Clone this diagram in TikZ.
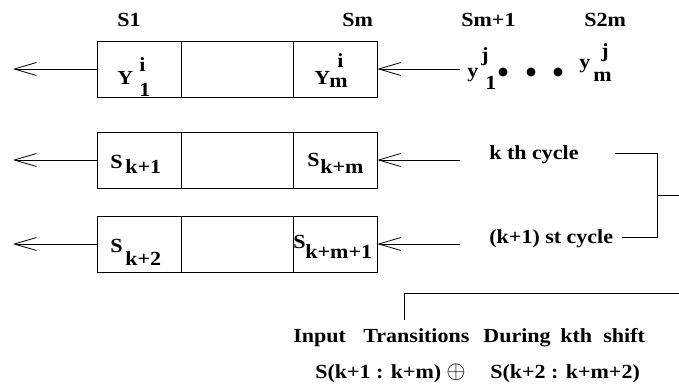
\documentclass[tikz,border=0pt]{standalone}
\usepackage{fontspec}
\setmainfont{Liberation Serif}[FakeStretch=1.1]
\usetikzlibrary{arrows.meta}
\begin{document}
\begin{tikzpicture}[x=1pt,y=-1pt,
  font=\fontsize{20}{22}\selectfont\bfseries,
  line width=0.8pt,
  cell/.style={draw, inner sep=0, minimum height=56pt},
  edgecell/.style={cell, minimum width=84pt},
  midcell/.style={cell, minimum width=112pt},
  arr/.style={-{Straight Barb[length=22pt,width=13pt]}},
  lab/.style={anchor=base west, inner sep=0},
  dot/.style={circle, fill, inner sep=0, minimum size=9pt}]
\useasboundingbox (0,0) rectangle (679,390);
% row 1
\node[edgecell] (a1) at (139,69) {};
\node[midcell]  (a2) at (237,69) {};
\node[edgecell] (a3) at (335,69) {};
% row 2
\node[edgecell] (b1) at (139,160) {};
\node[midcell]  (b2) at (237,160) {};
\node[edgecell] (b3) at (335,160) {};
% row 3
\node[edgecell] (c1) at (139,244) {};
\node[midcell]  (c2) at (237,244) {};
\node[edgecell] (c3) at (335,244) {};
% top labels
\node[lab] (s1) at (117,27) {S1};
\node[lab] (sm) at (342,27) {Sm};
\node[lab] (smp) at (461,27) {Sm+1};
\node[lab] (s2m) at (584,27) {S2m};
% row 1 contents
\node[lab] (Y1) at (117,85) {Y};
\node[lab] (Y1i) at (139,72) {i};
\node[lab] (Y1s) at (139,97) {1};
\node[lab] (Ym) at (314,85) {Y};
\node[lab] (Ymi) at (337,68) {i};
\node[lab] (Yms) at (329,88) {m};
% input sequence
\node[lab] (y1) at (467,78) {y};
\node[lab] (y1j) at (481,62) {j};
\node[lab] (y1s) at (485,90) {1};
\node[dot] (d1) at (503,72) {};
\node[dot] (d2) at (531,72) {};
\node[dot] (d3) at (558,72) {};
\node[lab] (ym) at (579,69) {y};
\node[lab] (ymj) at (601,58) {j};
\node[lab] (yms) at (593,82) {m};
% row 2 contents
\node[lab] (S21) at (110,168) {S};
\node[lab] (S21s) at (125,173) {k+1};
\node[lab] (S23) at (307,167) {S};
\node[lab] (S23s) at (320,173) {k+m};
% row 3 contents
\node[lab] (S31) at (110,252) {S};
\node[lab] (S31s) at (125,265) {k+2};
\node[lab] (S33) at (293,248) {S};
\node[lab] (S33s) at (305,258) {k+m+1};
% cycle labels
\node[lab] (kth) at (489,160) {k th cycle};
\node[lab] (k1st) at (489,243) {(k+1) st cycle};
% bottom texts
\node[lab] (w1) at (293,342) {Input};
\node[lab] (w2) at (363,342) {Transitions};
\node[lab] (w3) at (483,342) {During};
\node[lab] (w4) at (560,342) {kth};
\node[lab] (w5) at (603,342) {shift};
\node[lab] (f1) at (315,378) {S(k+1 : k+m)};
\node[lab] (fo) at (446,378) {\fontsize{24}{24}\selectfont$\oplus$};
\node[lab] (f2) at (490,378) {S(k+2 : k+m+2)};
% coordinates
\coordinate (o1) at (13,69);
\coordinate (o2) at (13,160);
\coordinate (o3) at (13,244);
\coordinate (i1) at (460,69);
\coordinate (i2) at (460,160);
\coordinate (i3) at (460,244);
\coordinate (bk) at (615,153);
\coordinate (bk1) at (622,237);
\coordinate (bv) at (657,195);
\coordinate (be) at (679,195);
\coordinate (ht) at (679,293);
\coordinate (hb) at (404,320);
% arrows
\draw[arr] (a1.west) -- (o1);
\draw[arr] (b1.west) -- (o2);
\draw[arr] (c1.west) -- (o3);
\draw[arr] (i1) -- (a3.east);
\draw[arr] (i2) -- (b3.east);
\draw[arr] (i3) -- (c3.east);
% brackets
\draw (bk) -| (bv) |- (bk1);
\draw (bv) -- (be);
\draw (ht) -| (hb);
\end{tikzpicture}
\end{document}
